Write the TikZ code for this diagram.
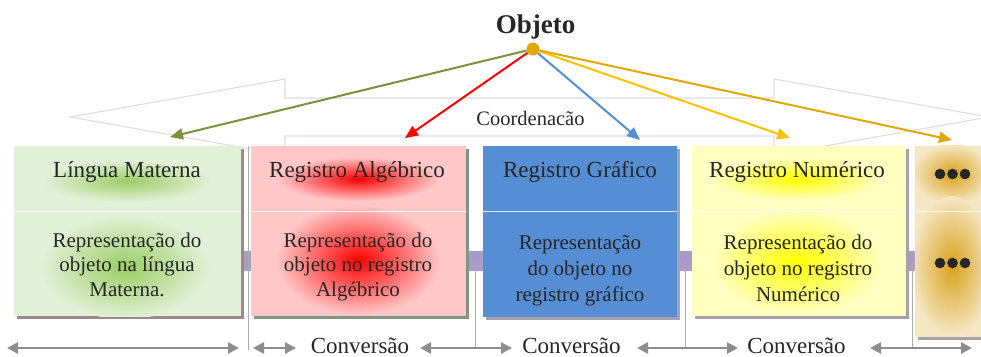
\documentclass[tikz,border=0pt]{standalone}
\usepackage{fontspec}
\setmainfont{Liberation Serif}
\usetikzlibrary{arrows.meta}
\definecolor{txt}{HTML}{262626}
\definecolor{cA}{HTML}{E3F0D8}
\definecolor{gA}{HTML}{8DC850}
\definecolor{cB}{HTML}{FFC7C7}
\definecolor{gB}{HTML}{FF0000}
\definecolor{cC}{HTML}{558ED5}
\definecolor{cD}{HTML}{FFFFC1}
\definecolor{gD}{HTML}{FFFF00}
\definecolor{cE}{HTML}{F5E6C4}
\definecolor{gE}{HTML}{D9A21A}
\definecolor{band}{HTML}{A99BC8}
\definecolor{outl}{HTML}{E0DBE9}
\definecolor{gold}{HTML}{E0A800}
\definecolor{aGreen}{HTML}{77933C}
\definecolor{aRed}{HTML}{FF0000}
\definecolor{aBlue}{HTML}{558ED5}
\definecolor{aYel}{HTML}{FFC000}
\definecolor{grayarr}{HTML}{8D8D8D}
\definecolor{vline}{HTML}{ABABAB}
\definecolor{shad}{HTML}{A3A2AD}
\tikzset{
  regbox/.style={inner sep=0pt, minimum height=170pt},
  ttl/.style={anchor=base, text=txt, font=\fontsize{23}{27}\selectfont, inner sep=0pt},
  body/.style={anchor=base, text=txt, align=center, font=\fontsize{21}{24.5}\selectfont, inner sep=0pt},
  objarrow/.style={line width=2pt, -{Triangle[length=13pt,width=11pt]}},
  convarrow/.style={draw=grayarr, line width=2.6pt, {Triangle[length=11pt,width=11pt]}-{Triangle[length=11pt,width=11pt]}},
  convlbl/.style={anchor=base, text=txt, font=\fontsize{23}{27}\selectfont, inner sep=0pt},
  sep/.style={draw=vline, line width=0.9pt}
}
\begin{document}
\begin{tikzpicture}[x=1pt,y=-1pt]
\useasboundingbox[fill=white] (0,0) rectangle (981,356);

% big double block arrow (Coordenacao)
\draw[outl, line width=1.1pt, fill=white]
  (70,117) -- (285,79) -- (285,98) -- (774,98) -- (774,79) -- (989,117)
  -- (774,155) -- (774,136) -- (285,136) -- (285,155) -- cycle;
\node[anchor=base, text=txt, font=\fontsize{20.5}{24}\selectfont, inner sep=0pt] (coord) at (530.5,125) {Coordenacão};

% purple band
\fill[band] (14,251) rectangle (915,271);

% separators
\draw[sep] (248,146) -- (248,350);
\draw[sep] (475,262) -- (475,347);
\draw[sep] (685,262) -- (685,349);
\draw[sep] (912,262) -- (912,349);

% shadows
\fill[shad!90!red!60!gray] (17,149) rectangle (244,319);
\fill[shad!80!green!40!gray] (254,149) rectangle (469,319);
\fill[shad] (486,149) rectangle (680,320);
\fill[shad] (695,149) rectangle (909,319);
\fill[shad] (918,149) rectangle (981,340);

% boxes
\node[regbox, fill=cA, minimum width=227pt] (b1) at (127.5,231) {};
\node[regbox, fill=cB, minimum width=215pt] (b2) at (358.5,231) {};
\node[regbox, fill=cC, minimum width=194pt, minimum height=171pt] (b3) at (580,231.5) {};
\node[regbox, fill=cD, minimum width=214pt] (b4) at (799,231) {};
\node[regbox, fill=cE, minimum width=66pt, minimum height=191pt] (b5) at (948,241.5) {};

% glows
\begin{scope}
  \clip (b1.north west) rectangle (b1.south east);
  \shade[inner color=gA!85!cA, outer color=cA] (127,181) ellipse (85 and 21);
  \shade[inner color=gA!85!cA, outer color=cA] (125,267) ellipse (85 and 52);
\end{scope}
\begin{scope}
  \clip (b2.north west) rectangle (b2.south east);
  \shade[inner color=gB, outer color=cB] (358,179) ellipse (80 and 22);
  \shade[inner color=gB, outer color=cB] (358,260) ellipse (82 and 55);
\end{scope}
\begin{scope}
  \clip (b4.north west) rectangle (b4.south east);
  \shade[inner color=gD, outer color=cD] (797,179) ellipse (85 and 21);
  \shade[inner color=gD, outer color=cD] (797,262) ellipse (85 and 52);
\end{scope}
\begin{scope}
  \clip (b5.north west) rectangle (b5.south east);
  \shade[inner color=gE, outer color=cE] (952,174) ellipse (40 and 30);
  \shade[inner color=gE, outer color=cE] (952,266) ellipse (42 and 70);
\end{scope}

% dividers
\foreach \b in {b1,b2,b3,b4,b5}
  \draw[white, opacity=0.8, line width=1pt] (\b.west |- 0,211) -- (\b.east |- 0,211);

% titles
\node[ttl] (t1) at (127,177) {Língua Materna};
\node[ttl] (t2) at (357,177) {Registro Algébrico};
\node[ttl] (t3) at (580,177) {Registro Gráfico};
\node[ttl] (t4) at (797,177) {Registro Numérico};

% bodies (anchor base = last line baseline)
\node[body] (d1) at (127,296) {Representação do\\objeto na língua\\Materna.};
\node[body] (d2) at (358,296) {Representação do\\objeto no registro\\Algébrico};
\node[body, font=\fontsize{21}{26}\selectfont] (d3) at (580,301) {Representação\\do objeto no\\registro gráfico};
\node[body, font=\fontsize{21}{26}\selectfont] (d4) at (798,301) {Representação do\\objeto no registro\\Numérico};

% dots in last box
\foreach \cx in {940,952.5,965} {
  \fill[txt] (\cx,174) circle (5.3);
  \fill[txt] (\cx,263) circle (5.3);
}

% Objeto
\node[anchor=base, text=txt, font=\bfseries\fontsize{27}{30}\selectfont, inner sep=0pt] (obj) at (535.5,33) {Objeto};
\node[circle, fill=gold, inner sep=0pt, minimum size=13pt] (o) at (533,49) {};
\coordinate (e1) at (170,137);
\coordinate (e2) at (405,138);
\coordinate (e3) at (640,140);
\coordinate (e4) at (790,138);
\coordinate (e5) at (952,140);
\draw[objarrow, aGreen] (o) -- (e1);
\draw[objarrow, aRed] (o) -- (e2);
\draw[objarrow, aBlue] (o) -- (e3);
\draw[objarrow, aYel] (o) -- (e4);
\draw[objarrow, gold] (o) -- (e5);

% bottom conversion arrows
\coordinate (p1a) at (7,348);   \coordinate (p1b) at (239,348);
\coordinate (p2a) at (253,348); \coordinate (p2b) at (296,348);
\coordinate (p3a) at (420,348); \coordinate (p3b) at (512,348);
\coordinate (p4a) at (637,348); \coordinate (p4b) at (738,348);
\coordinate (p5a) at (870,348); \coordinate (p5b) at (972,348);
\draw[convarrow] (p1a) -- (p1b);
\draw[convarrow] (p2a) -- (p2b);
\draw[convarrow] (p3a) -- (p3b);
\draw[convarrow] (p4a) -- (p4b);
\draw[convarrow] (p5a) -- (p5b);
\node[convlbl] (c1) at (360,353) {Conversão};
\node[convlbl] (c2) at (571.5,353) {Conversão};
\node[convlbl] (c3) at (796.5,353) {Conversão};
\end{tikzpicture}
\end{document}
